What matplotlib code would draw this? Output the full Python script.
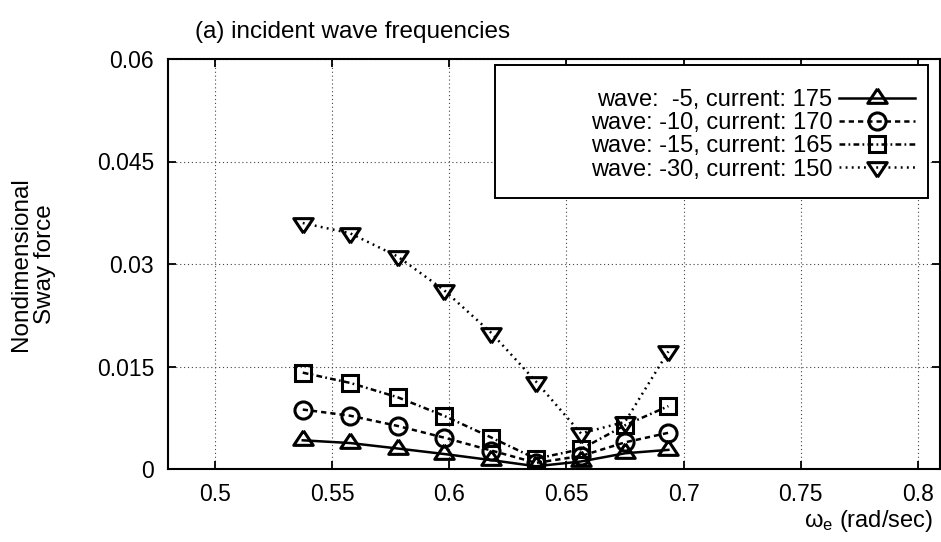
import matplotlib
matplotlib.use("Agg")
import matplotlib.pyplot as plt
from matplotlib.patches import Rectangle

plt.rcParams['font.family'] = ['Liberation Sans', 'DejaVu Sans']
plt.rcParams['mathtext.fontset'] = 'custom'
plt.rcParams['mathtext.rm'] = 'Liberation Sans'

# Encounter frequency (rad/sec)
omega_e = [0.5375, 0.5577, 0.5780, 0.5977, 0.6180, 0.6370, 0.6562, 0.6750, 0.6935]

# Nondimensional sway force for each wave/current heading pair
sway_w5 = [0.0042, 0.0038, 0.0030, 0.0022, 0.0013, 0.0004, 0.0011, 0.0023, 0.0028]
sway_w10 = [0.0087, 0.0078, 0.0063, 0.0046, 0.0027, 0.0009, 0.0019, 0.0039, 0.0053]
sway_w15 = [0.0141, 0.0126, 0.0105, 0.0078, 0.0046, 0.0015, 0.0029, 0.0064, 0.0092]
sway_w30 = [0.0360, 0.0345, 0.0311, 0.0262, 0.0199, 0.0128, 0.0052, 0.0069, 0.0172]

labels = ["wave:  -5, current: 175",
          "wave: -10, current: 170",
          "wave: -15, current: 165",
          "wave: -30, current: 150"]

x_ticks = [0.5, 0.55, 0.6, 0.65, 0.7, 0.75, 0.8]
x_ticklabels = ["0.5", "0.55", "0.6", "0.65", "0.7", "0.75", "0.8"]
y_ticks = [0, 0.015, 0.03, 0.045, 0.06]
y_ticklabels = ["0", "0.015", "0.03", "0.045", "0.06"]

W, H = 941, 542
fig = plt.figure(figsize=(W / 100, H / 100), dpi=100)
ax = fig.add_axes([168 / W, (H - 469) / H, (940 - 168) / W, (469 - 59) / H])

# Wide, slightly flattened triangles (centroid at the data point)
tri_up = [(0, 1.0), (-1.0, -0.5), (1.0, -0.5), (0, 1.0)]
tri_down = [(0, -1.0), (-1.0, 0.5), (1.0, 0.5), (0, -1.0)]

common = dict(color='black', lw=1.8, mfc='none', mec='black', mew=2.2)
series = [
    (sway_w5, dict(ls='-', marker=tri_up, ms=14)),
    (sway_w10, dict(ls=(0, (2.1, 1.6)), marker='o', ms=12.3)),
    (sway_w15, dict(ls=(0, (2.3, 1.3, 0.7, 1.3)), marker='s', ms=11.8)),
    (sway_w30, dict(ls=(0, (0.75, 1.7)), marker=tri_down, ms=14)),
]
handles = []
for vals, style in series:
    h, = ax.plot(omega_e, vals, **common, **style)
    handles.append(h)

ax.set_xlim(0.48, 0.8094)
ax.set_ylim(0, 0.06)
ax.set_xticks(x_ticks)
ax.set_xticklabels(x_ticklabels)
ax.set_yticks(y_ticks)
ax.set_yticklabels(y_ticklabels)
ax.tick_params(direction='in', length=6, width=1.3, top=True, right=True,
               pad=10, labelsize=16.5)
for sp in ax.spines.values():
    sp.set_linewidth(1.5)

ax.set_axisbelow(True)
ax.grid(True, color='#444444', lw=0.8, ls=(0, (1, 2.5)))

# Key box
x0, y0, x1, y1 = 495, 65, 928, 198
box = Rectangle(((x0 - 168) / (940 - 168), (469 - y1) / (469 - 59)),
                (x1 - x0) / (940 - 168), (y1 - y0) / (469 - 59),
                transform=ax.transAxes, facecolor='white', edgecolor='black',
                lw=1.4, zorder=4)
ax.add_patch(box)

leg = fig.legend(handles, labels, loc='upper right',
                 bbox_to_anchor=(915 / W, 1 - 89 / H),
                 frameon=False, markerfirst=False, fontsize=17,
                 handlelength=3.2, handletextpad=0.3, labelspacing=0.05,
                 borderpad=0, borderaxespad=0, numpoints=1)
leg.set_zorder(5)

fig.text(195 / W, 1 - 38 / H, "(a) incident wave frequencies",
         fontsize=17.5, ha='left', va='baseline')
fig.text(33 / W, 1 - 264 / H, "Nondimensional\nSway force", rotation=90,
         fontsize=17.5, ha='center', va='center', multialignment='center',
         linespacing=1.15)
fig.text(933 / W, 1 - 527 / H, r"$\mathregular{\omega_e}$ (rad/sec)",
         fontsize=17, ha='right', va='baseline')

fig.savefig("out.png", dpi=100)
